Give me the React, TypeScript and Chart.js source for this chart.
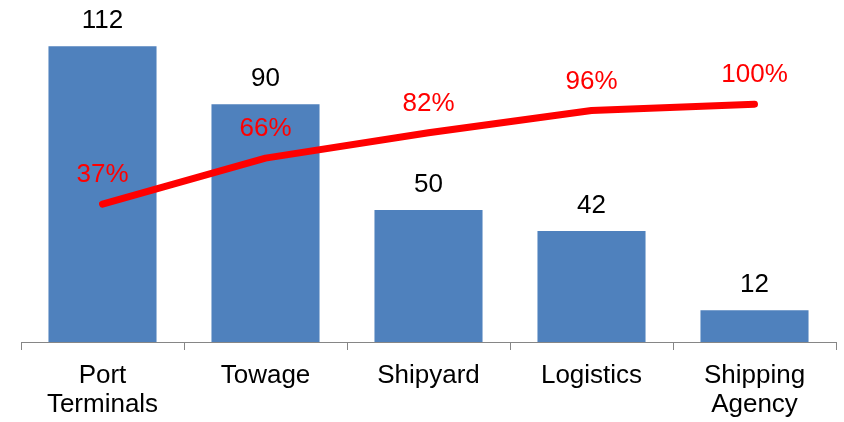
import React, { useEffect, useRef } from 'react';
import { Chart, registerables } from 'chart.js';

Chart.register(...registerables);

const categories: (string | string[])[] = [['Port', 'Terminals'], 'Towage', 'Shipyard', 'Logistics', ['Shipping', 'Agency']];
const counts = [112, 90, 50, 42, 12];
const cumulativePct = [37, 66, 82, 96, 100];

const FONT = '"Liberation Sans", Arial, sans-serif';

const labelPlugin = {
  id: 'valueLabels',
  afterDatasetsDraw(chart: any) {
    const ctx = chart.ctx;
    ctx.save();
    ctx.font = `26px ${FONT}`;
    ctx.textAlign = 'center';
    ctx.textBaseline = 'alphabetic';
    const barMeta = chart.getDatasetMeta(0);
    barMeta.data.forEach((el: any, i: number) => {
      ctx.fillStyle = '#000000';
      ctx.fillText(String(counts[i]), el.x, el.y - 18);
    });
    const lineMeta = chart.getDatasetMeta(1);
    lineMeta.data.forEach((el: any, i: number) => {
      ctx.fillStyle = '#FF0000';
      ctx.fillText(cumulativePct[i] + '%', el.x, el.y - 22);
    });
    ctx.restore();
  },
};

export default function App() {
  const ref = useRef<HTMLCanvasElement>(null);
  useEffect(() => {
    if (!ref.current) return;
    const chart = new Chart(ref.current, {
      type: 'bar',
      data: {
        labels: categories,
        datasets: [
          {
            type: 'bar',
            data: counts,
            backgroundColor: '#4F81BD',
            borderWidth: 0,
            barPercentage: 0.663,
            categoryPercentage: 1,
            yAxisID: 'y',
            order: 2,
          } as any,
          {
            type: 'line',
            data: cumulativePct,
            borderColor: '#FF0000',
            borderWidth: 7,
            borderCapStyle: 'round',
            borderJoinStyle: 'round',
            pointRadius: 0,
            tension: 0,
            fill: false,
            yAxisID: 'y2',
            order: 1,
          } as any,
        ],
      },
      options: {
        animation: false,
        responsive: true,
        maintainAspectRatio: false,
        layout: { padding: { left: 21, right: 8, top: 25, bottom: 0 } },
        plugins: { legend: { display: false }, tooltip: { enabled: false } },
        scales: {
          x: {
            offset: true,
            grid: {
              display: true,
              offset: true,
              drawOnChartArea: false,
              drawTicks: true,
              tickLength: 8,
              color: '#868686',
            },
            border: { display: true, color: '#868686', width: 1 },
            ticks: {
              color: '#000000',
              font: { family: FONT, size: 26, lineHeight: 1.1 },
              padding: 12,
              maxRotation: 0,
              autoSkip: false,
            },
            afterFit(scale: any) {
              scale.height = 80;
            },
          },
          y: { display: false, min: 0, max: 120 },
          y2: { display: false, min: -50, max: 150, position: 'right' },
        },
      },
      plugins: [labelPlugin],
    });
    return () => chart.destroy();
  }, []);
  return (
    <div style={{ position: 'fixed', left: 0, top: 0, width: 844, height: 422, background: '#fff' }}>
      <canvas ref={ref} />
    </div>
  );
}
